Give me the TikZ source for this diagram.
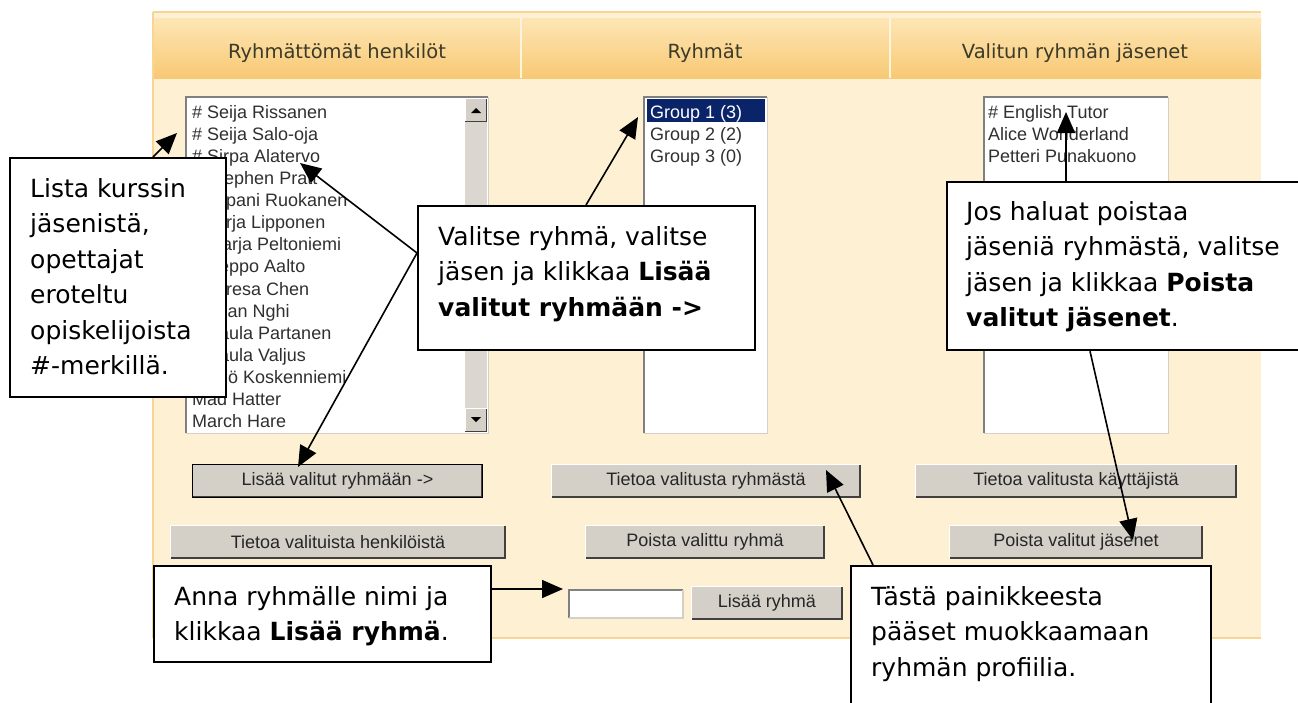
\documentclass[tikz,border=0pt]{standalone}
\usepackage{fontspec}
\setmainfont{DejaVu Sans}
\newfontfamily\uifont{Liberation Sans}
\usetikzlibrary{arrows.meta,calc}
\definecolor{panelbg}{HTML}{FEF0D3}
\definecolor{hdrtop}{HTML}{FDE6B5}
\definecolor{hdrbot}{HTML}{F8C974}
\definecolor{edgeor}{HTML}{F9D593}
\definecolor{btnface}{HTML}{D4D0C8}
\definecolor{btndark}{HTML}{404040}
\definecolor{btnshadow}{HTML}{808080}
\definecolor{selblue}{HTML}{0A246A}
\definecolor{hdrtext}{HTML}{3C3A28}
\definecolor{listtext}{HTML}{303030}
\newcommand\cstack[1]{\vtop{\baselineskip=35.5pt\relax #1}}
\newcommand\uibutton[6]{%
  \node[uibtn, minimum width=#4pt, minimum height=#5pt] (#1) at (#2,#3) {#6};
  \draw[white,line width=1pt] (#1.south west) -- (#1.north west) -- (#1.north east);
  \draw[btndark,line width=1.6pt] (#1.south west) -- (#1.south east) -- (#1.north east);
}
\newcommand\sunken[1]{%
  \draw[btnshadow,line width=2pt] (#1.south west) -- (#1.north west) -- (#1.north east);
  \draw[btnface,line width=1.5pt] (#1.south west) -- (#1.south east) -- (#1.north east);
}
\begin{document}
\begin{tikzpicture}[x=1pt,y=-1pt,
  callout/.style={draw=black,line width=2.2pt,fill=white,anchor=north west,inner sep=0pt},
  ctext/.style={anchor=base west,inner sep=0pt,font=\fontsize{25}{35.5}\selectfont},
  hdr/.style={anchor=base,inner sep=0pt,text=hdrtext,font=\fontsize{19.5}{22}\selectfont},
  item/.style={anchor=base west,inner sep=0pt,text=listtext,font=\uifont\fontsize{18}{22}\selectfont},
  uibtn/.style={fill=btnface,inner sep=0pt,text=black!85,font=\uifont\fontsize{18}{22}\selectfont},
  listbox/.style={fill=white,anchor=north west,inner sep=0pt},
  arr/.style={line width=1.6pt,-{Triangle[length=21pt,width=18pt]}}
]
\useasboundingbox (0,0) rectangle (1298,702);
\clip (0,0) rectangle (1298,702);
\fill[white] (0,0) rectangle (1298,702);
% panel
\fill[panelbg] (153,12) rectangle (1261,638);
\shade[top color=hdrtop,bottom color=hdrbot] (153,18) rectangle (1261,78);
\draw[edgeor,line width=1.5pt] (153,12) -- (1261,12);
\draw[white!55!hdrtop,line width=1.5pt] (521,18) -- (521,78);
\draw[white!55!hdrtop,line width=1.5pt] (890,18) -- (890,78);
\draw[edgeor,line width=1.5pt] (153,12) -- (153,638);
\draw[edgeor,line width=2pt] (153,638) -- (1261,638);
\node[hdr] (h1) at (337,58) {Ryhmättömät henkilöt};
\node[hdr] (h2) at (705,58) {Ryhmät};
\node[hdr] (h3) at (1075,58) {Valitun ryhmän jäsenet};
% left list
\node[listbox,minimum width=302pt,minimum height=336pt] (lbL) at (186,97) {};
\sunken{lbL}
\foreach \nm [count=\i] in {{\# Seija Rissanen},{\# Seija Salo-oja},{\# Sirpa Alatervo},{\# Stephen Pratt},{\# Tapani Ruokanen},{\# Tarja Lipponen},{\# Marja Peltoniemi},{\# Seppo Aalto},{\# Teresa Chen},{\# Tuan Nghi},{\# Paula Partanen},{\# Paula Valjus},{Väinö Koskenniemi},{Mad Hatter},{March Hare}}
  \node[item] (nL\i) at (192,{118+(\i-1)*22.14}) {\nm};
\fill[btnface!85!white] (465,99) rectangle (487,431);
\node[fill=btnface,minimum width=21pt,minimum height=22pt,inner sep=0pt] (sUp) at (476,110) {};
\node[fill=btnface,minimum width=21pt,minimum height=22pt,inner sep=0pt] (sDn) at (476,420) {};
\foreach \b in {sUp,sDn}{
  \draw[white,line width=1pt] (\b.south west) -- (\b.north west) -- (\b.north east);
  \draw[btndark,line width=1.4pt] (\b.south west) -- (\b.south east) -- (\b.north east);
}
\fill[black] (471,113) -- (481,113) -- (476,108) -- cycle;
\fill[black] (471,417) -- (481,417) -- (476,422) -- cycle;
% groups list
\node[listbox,minimum width=123pt,minimum height=336pt] (lbG) at (644,97) {};
\sunken{lbG}
\fill[selblue] (647,99) rectangle (765,122);
\node[item,text=white] (g1) at (650,118) {Group 1 (3)};
\node[item] (g2) at (650,140) {Group 2 (2)};
\node[item] (g3) at (650,162) {Group 3 (0)};
% members list
\node[listbox,minimum width=184pt,minimum height=336pt] (lbM) at (984,97) {};
\sunken{lbM}
\node[item] (m1) at (988,118) {\# English Tutor};
\node[item] (m2) at (988,140) {Alice Wonderland};
\node[item] (m3) at (988,162) {Petteri Punakuono};
% buttons
\uibutton{b1}{337.5}{481}{289}{32}{Lisää valitut ryhmään ->}
\draw[black,line width=1.3pt] (b1.south west) rectangle (b1.north east);
\uibutton{b2}{706}{481}{308}{32}{Tietoa valitusta ryhmästä}
\uibutton{b3}{1076}{481}{320}{32}{Tietoa valitusta käyttäjistä}
\uibutton{b4}{338}{542}{334}{32}{Tietoa valituista henkilöistä}
\uibutton{b5}{705}{542}{238}{32}{Poista valittu ryhmä}
\uibutton{b6}{1076}{542}{252}{32}{Poista valitut jäsenet}
\uibutton{b7}{767}{603}{150}{32}{Lisää ryhmä}
\node[fill=white,minimum width=114pt,minimum height=28pt,inner sep=0pt] (inp) at (626,604) {};
\sunken{inp}
% target points
\coordinate (tC1) at (177,133);
\coordinate (tSirpa) at (300,163);
\coordinate (tB1) at (298,467);
\coordinate (tG1) at (638,117);
\coordinate (tEng) at (1066,112);
\coordinate (tB6) at (1133,540);
\coordinate (tIn) at (563,589);
\coordinate (tB2) at (826,470);
% callouts
\node[callout,minimum width=216pt,minimum height=239pt] (c1) at (9,157) {};
\node[ctext] (c1t) at (30,197) {\cstack{\hbox{Lista kurssin}\hbox{jäsenistä,}\hbox{opettajat}\hbox{eroteltu}\hbox{opiskelijoista}\hbox{\#-merkillä.}}};
\node[callout,minimum width=337pt,minimum height=144pt] (c2) at (417,205) {};
\node[ctext] (c2t) at (438,245) {\cstack{\hbox{Valitse ryhmä, valitse}\hbox{jäsen ja klikkaa \textbf{Lisää}}\hbox{\textbf{valitut ryhmään ->}}}};
\node[callout,minimum width=360pt,minimum height=168pt] (c3) at (946,181) {};
\node[ctext] (c3t) at (966,220) {\cstack{\hbox{Jos haluat poistaa}\hbox{jäseniä ryhmästä, valitse}\hbox{jäsen ja klikkaa \textbf{Poista}}\hbox{\textbf{valitut jäsenet}.}}};
\node[callout,minimum width=337pt,minimum height=96pt] (c4) at (153,565) {};
\node[ctext] (c4t) at (174,605) {\cstack{\hbox{Anna ryhmälle nimi ja}\hbox{klikkaa \textbf{Lisää ryhmä}.}}};
\node[callout,minimum width=360pt,minimum height=160pt] (c5) at (850,565) {};
\node[ctext] (c5t) at (871,605) {\cstack{\hbox{Tästä painikkeesta}\hbox{pääset muokkaamaan}\hbox{ryhmän profiilia.}}};
% arrows
\draw[arr] ($(c1.north west)+(144,0)$) -- (tC1);
\draw[arr] ($(c2.north west)+(0,48)$) -- (tSirpa);
\draw[arr] ($(c2.north west)+(0,48)$) -- (tB1);
\draw[arr] ($(c2.north west)+(169,0)$) -- (tG1);
\draw[arr] ($(c3.north west)+(120,0)$) -- (tEng);
\draw[arr] ($(c3.south west)+(144,0)$) -- (tB6);
\draw[arr] ($(c4.north east)+(0,24)$) -- (tIn);
\draw[arr] ($(c5.north west)+(23,0)$) -- (tB2);
\end{tikzpicture}
\end{document}
